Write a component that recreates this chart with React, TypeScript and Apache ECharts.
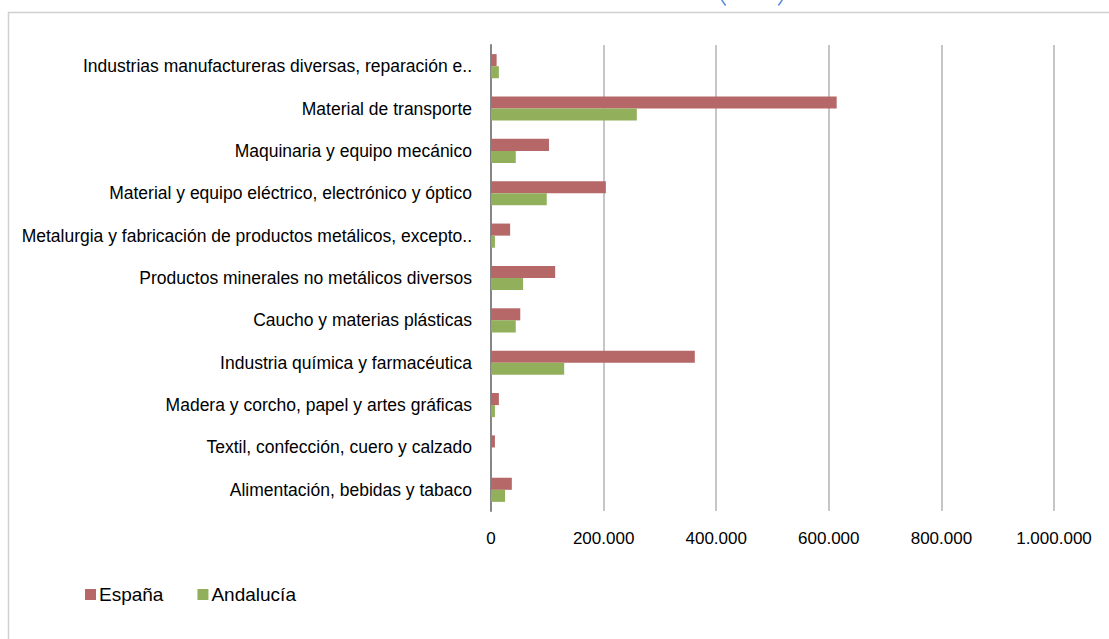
import React, { useEffect, useRef } from "react";
import * as echarts from "echarts";

const categories = [
  "Industrias manufactureras diversas, reparación e..",
  "Material de transporte",
  "Maquinaria y equipo mecánico",
  "Material y equipo eléctrico, electrónico y óptico",
  "Metalurgia y fabricación de productos metálicos, excepto..",
  "Productos minerales no metálicos diversos",
  "Caucho y materias plásticas",
  "Industria química y farmacéutica",
  "Madera y corcho, papel y artes gráficas",
  "Textil, confección, cuero y calzado",
  "Alimentación, bebidas y tabaco",
];
const espana = [10000, 614000, 103000, 204000, 34000, 114000, 52000, 362000, 14000, 7000, 37000];
const andalucia = [14000, 259000, 44000, 99000, 7000, 57000, 44000, 130000, 7000, 500, 25000];
const xTicks = [0, 200000, 400000, 600000, 800000, 1000000];

const fmt = (v: number) => (v === 0 ? "0" : v.toString().replace(/\B(?=(\d{3})+(?!\d))/g, "."));

export default function App() {
  const ref = useRef<HTMLDivElement>(null);
  useEffect(() => {
    document.body.style.margin = "0";
    const chart = echarts.init(ref.current!, null, { renderer: "svg" });
    const font = "'Liberation Sans', Arial, sans-serif";
    chart.setOption({
      animation: false,
      backgroundColor: "#ffffff",
      grid: { left: 491, right: 55, top: 45, bottom: 128, containLabel: false },
      xAxis: {
        type: "value",
        min: xTicks[0],
        max: xTicks[xTicks.length - 1],
        interval: 200000,
        axisLine: { show: false },
        axisTick: { show: false },
        splitLine: { show: true, lineStyle: { color: "#c6c6c6", width: 2 } },
        axisLabel: {
          formatter: (v: number) => fmt(v),
          color: "#000",
          fontSize: 17,
          fontFamily: font,
          margin: 19,
        },
      },
      yAxis: {
        type: "category",
        data: categories,
        inverse: true,
        axisLine: { show: true, lineStyle: { color: "#868686", width: 2 } },
        axisTick: { show: false },
        axisLabel: { color: "#000", fontSize: 17.5, fontFamily: font, margin: 19 },
      },
      legend: {
        left: 80,
        top: 580,
        icon: "rect",
        itemWidth: 11,
        itemHeight: 11,
        itemGap: 34,
        textStyle: { color: "#000", fontSize: 19, fontFamily: font, padding: [0, 0, 0, -2] },
        data: ["España", "Andalucía"],
      },
      series: [
        {
          name: "España",
          type: "bar",
          data: espana,
          barGap: "0%",
          barCategoryGap: "43%",
          itemStyle: { color: "#b66868" },
        },
        {
          name: "Andalucía",
          type: "bar",
          data: andalucia,
          itemStyle: { color: "#92b05b" },
        },
      ],
      graphic: [
        {
          type: "rect",
          shape: { x: 8.5, y: 12.5, width: 1300, height: 800 },
          style: { fill: "none", stroke: "#d0d0d0", lineWidth: 1.5 },
          silent: true,
        },
        {
          type: "arc",
          shape: { cx: 745, cy: -12, r: 26, startAngle: (138 * Math.PI) / 180, endAngle: (165 * Math.PI) / 180 },
          style: { stroke: "#5b8fd6", lineWidth: 1.6, fill: "none" },
          silent: true,
        },
        {
          type: "arc",
          shape: { cx: 759, cy: -12, r: 26, startAngle: (15 * Math.PI) / 180, endAngle: (42 * Math.PI) / 180 },
          style: { stroke: "#5b8fd6", lineWidth: 1.6, fill: "none" },
          silent: true,
        },
      ],
    });
    return () => chart.dispose();
  }, []);
  return <div ref={ref} style={{ width: 1109, height: 639 }} />;
}
